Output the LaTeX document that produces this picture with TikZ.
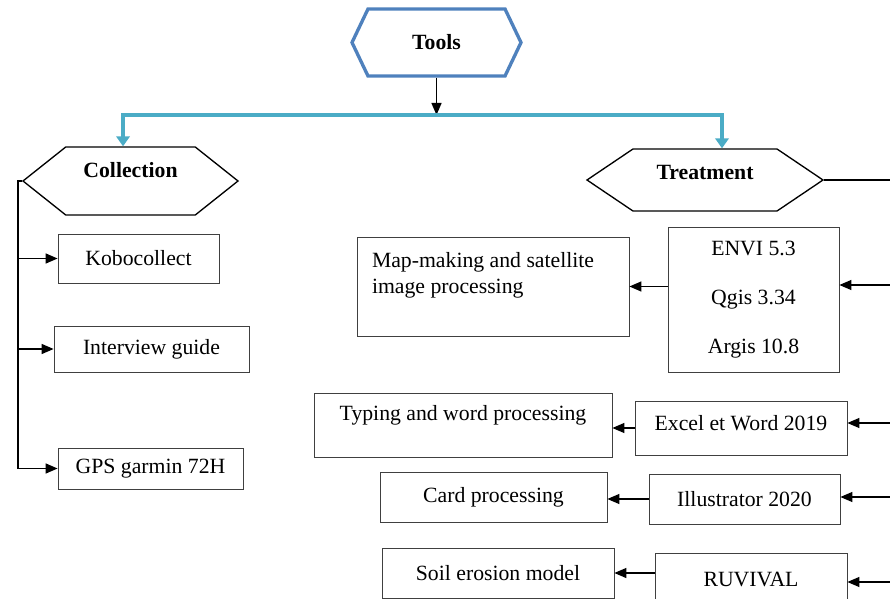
\documentclass[tikz,border=0pt]{standalone}
\usepackage{fontspec}
\setmainfont{Liberation Serif}
\usetikzlibrary{positioning, shapes.symbols, arrows.meta}
\definecolor{tlblue}{HTML}{4F81BD}
\definecolor{tlcyan}{HTML}{4BACC6}
\definecolor{tlgrey}{HTML}{404040}

\begin{document}
\begin{tikzpicture}[x=0.75pt, y=-0.75pt, font=\fontsize{16.3}{19.5}\selectfont,
    hexa/.style={signal, signal to=west and east, draw=black, line width=1pt,
      font=\fontsize{16.3}{19.5}\selectfont\bfseries},
    tbox/.style={draw=tlgrey, line width=0.6pt, align=center, inner sep=2pt},
    arr/.style={line width=1pt, -{Triangle[length=9pt, width=7.5pt]}},
    bluearr/.style={tlcyan, line width=3pt,
      {Triangle[length=7.5pt, width=10pt]}-{Triangle[length=7.5pt, width=10pt]}}]
  \useasboundingbox (0,0) rectangle (890,599);

  % hexagons
  \node[hexa, draw=tlblue, line width=2.5pt, signal pointer angle=129,
    minimum width=126.75pt, minimum height=50.25pt] (tools) at (436.5,42.5) {Tools};
  \node[hexa, signal pointer angle=77, minimum width=161.25pt, minimum height=51pt,
    text depth=16.5pt] (coll) at (130.5,181) {Collection};
  \node[hexa, signal pointer angle=68, minimum width=177pt, minimum height=46.5pt,
    text depth=12pt] (treat) at (705,180) {Treatment};

  \coordinate (bar) at (436.5,115);
  \draw[arr] (tools.south) -- (bar);
  \draw[bluearr] ([xshift=-5.6pt]coll.north) |- (bar) -| ([xshift=12.75pt]treat.north);

  % collection side
  \node[tbox, minimum width=120.75pt, minimum height=36.75pt] (kobo) at (138.5,258.5) {Kobocollect};
  \node[tbox, minimum width=146.25pt, minimum height=34.5pt] (guide) at (151.5,349) {Interview guide};
  \node[tbox, minimum width=138.75pt, minimum height=30.75pt] (gps) at (150.5,468.5) {GPS garmin 72H};

  \coordinate (lspine) at (18,181);
  \draw[arr] (coll.west) -- (lspine) |- (gps.west);
  \draw[arr] (lspine |- kobo.west) -- (kobo.west);
  \draw[arr] (lspine |- guide.west) -- (guide.west);

  % treatment side
  \node[tbox, minimum width=128.25pt, minimum height=108.75pt] (envi) at (753.5,299.5)
    {ENVI 5.3\\[17pt]Qgis 3.34\\[17pt]Argis 10.8};
  \node[tbox, minimum width=159pt, minimum height=40.5pt, text depth=7pt] (excel) at (741,428) {Excel et Word 2019};
  \node[tbox, minimum width=143.25pt, minimum height=37.5pt] (illus) at (744.5,499) {Illustrator 2020};
  \node[tbox, minimum width=144pt, minimum height=39pt] (ruvi) at (751,579) {RUVIVAL};

  \node[tbox, align=flush left, text width=181.5pt, inner xsep=11.25pt, minimum height=74.25pt,
    text depth=40pt] (map) at (493,286.5) {Map-making and satellite\\image processing};
  \node[tbox, minimum width=223.5pt, minimum height=48pt, text depth=18pt] (typing) at (463,425)
    {Typing and word processing};
  \node[tbox, minimum width=170.25pt, minimum height=37.5pt] (card) at (493.5,497) {Card processing};
  \node[tbox, minimum width=174pt, minimum height=37.5pt] (soil) at (498,573) {Soil erosion model};

  \coordinate (rspine) at (890,180);
  \draw[line width=1pt] (treat.east) -- (rspine);
  \coordinate (in1) at (890,285);
  \coordinate (in2) at (890,423);
  \coordinate (in3) at (890,497);
  \coordinate (in4) at (890,582);
  \draw[arr] (in1) -- (in1 -| envi.east);
  \draw[arr] (in2) -- (in2 -| excel.east);
  \draw[arr] (in3) -- (in3 -| illus.east);
  \draw[arr] (in4) -- (in4 -| ruvi.east);

  \draw[arr] (map.east -| envi.west) -- (map.east);
  \draw[arr] (excel.west) -- (excel.west -| typing.east);
  \draw[arr] (illus.west) -- (illus.west -| card.east);
  \draw[arr] (soil.east -| ruvi.west) -- (soil.east);
\end{tikzpicture}
\end{document}
